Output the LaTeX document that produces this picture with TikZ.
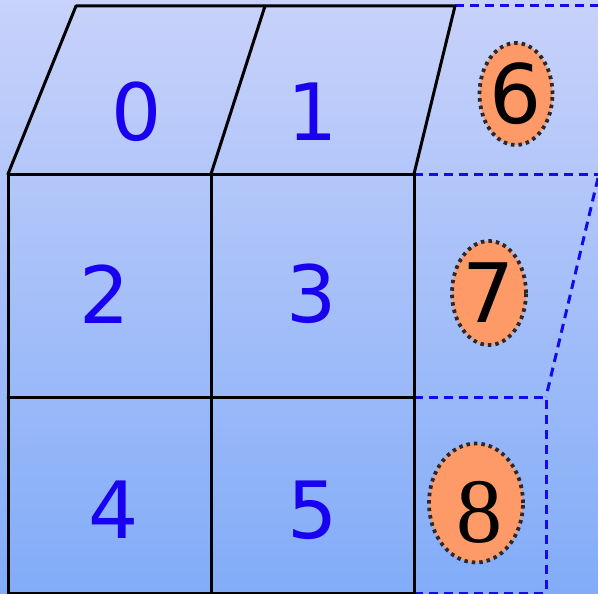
\documentclass[tikz,border=0pt]{standalone}
\usepackage{fontspec}
\setmainfont{DejaVu Sans}
\newfontfamily\serifdigit{Liberation Serif}
\usetikzlibrary{shapes.geometric}
\definecolor{bgtop}{RGB}{200,210,250}
\definecolor{bgbot}{RGB}{130,172,248}
\definecolor{digblue}{RGB}{26,0,240}
\definecolor{dashblue}{RGB}{20,10,235}
\definecolor{blob}{RGB}{254,154,104}
\definecolor{dotgray}{RGB}{40,40,45}
\begin{document}
\begin{tikzpicture}[x=1pt,y=-1pt,
  solidline/.style={line width=3pt,black,line cap=round,line join=round},
  dashline/.style={line width=3pt,dashblue,dash pattern=on 9pt off 6pt},
  numlabel/.style={text=digblue,font=\fontsize{79}{79}\selectfont,inner sep=0pt},
  blobnode/.style={ellipse,fill=blob,draw=dotgray,line width=3.8pt,dash pattern=on 3.5pt off 4pt,inner sep=0pt},
]
\shade[top color=bgtop,bottom color=bgbot] (0,0) rectangle (598,594);
\useasboundingbox (0,0) rectangle (598,594);
% coordinates
\coordinate (tl) at (76,6);
\coordinate (tm) at (265,6);
\coordinate (tr) at (455,6);
\coordinate (tfar) at (598,6);
\coordinate (ml) at (8,174);
\coordinate (mm) at (211,174);
\coordinate (mr) at (414,174);
\coordinate (mfar) at (598,174);
\coordinate (sl) at (598,178);
\coordinate (lm) at (8,397);
\coordinate (lmm) at (211,397);
\coordinate (lmr) at (414,397);
\coordinate (lfar) at (546,397);
\coordinate (bl) at (8,593);
\coordinate (bm) at (211,593);
\coordinate (br) at (414,593);
\coordinate (bfar) at (546,593);
\coordinate (bend) at (546,594);
% dashed
\draw[dashline] (tr) -- (tfar);
\draw[dashline] (mr) -- (mfar);
\draw[dashline] (sl) -- (lfar);
\draw[dashline] (lmr) -- (lfar) -- (bend);
\draw[dashline] (br) -- (bfar);
% solid
\draw[solidline] (ml) -- (tl) -- (tr) -- (mr);
\draw[solidline] (tm) -- (mm);
\draw[solidline] (ml) -- (mr);
\draw[solidline] (lm) -- (lmr);
\draw[solidline] (ml) -- (bl) -- (br) -- (mr);
\draw[solidline] (mm) -- (bm);
% labels
\node[numlabel] (n0) at (137,112) {0};
\node[numlabel] (n1) at (313,112) {1};
\node[numlabel] (n2) at (105,294) {2};
\node[numlabel] (n3) at (312,294) {3};
\node[numlabel] (n4) at (114,510) {4};
\node[numlabel] (n5) at (313,510) {5};
% blobs
\node[blobnode,minimum width=73pt,minimum height=102pt] (e6) at (516,94) {};
\node[font=\fontsize{82}{82}\selectfont,inner sep=0pt] (t6) at (e6) {6};
\node[blobnode,minimum width=74pt,minimum height=104pt] (e7) at (489,293) {};
\node[font=\fontsize{82}{82}\selectfont,inner sep=0pt] (t7) at (e7) {7};
\node[blobnode,minimum width=94pt,minimum height=119pt] (e8) at (476,503) {};
\node[font=\serifdigit\fontsize{92}{92}\selectfont,inner sep=0pt] (t8) at (479,512) {8};
\end{tikzpicture}
\end{document}
